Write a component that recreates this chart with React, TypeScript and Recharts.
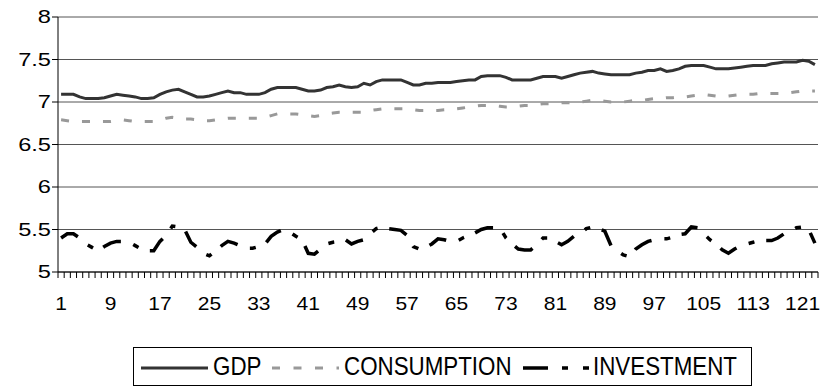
import { LineChart, Line, XAxis, YAxis, CartesianGrid, Legend } from "recharts";

const categories = Array.from({ length: 123 }, (_, i) => String(i + 1));

const gdp = [
  7.09, 7.09, 7.09, 7.06, 7.04, 7.04, 7.04, 7.05, 7.07, 7.09,
  7.08, 7.07, 7.06, 7.04, 7.04, 7.05, 7.09, 7.12, 7.14, 7.15,
  7.12, 7.09, 7.06, 7.06, 7.07, 7.09, 7.11, 7.13, 7.11, 7.11,
  7.09, 7.09, 7.09, 7.11, 7.15, 7.17, 7.17, 7.17, 7.17, 7.15,
  7.13, 7.13, 7.14, 7.17, 7.18, 7.2, 7.18, 7.17, 7.18, 7.22,
  7.2, 7.24, 7.26, 7.26, 7.26, 7.26, 7.23, 7.2, 7.2, 7.22,
  7.22, 7.23, 7.23, 7.23, 7.24, 7.25, 7.26, 7.26, 7.3, 7.31,
  7.31, 7.31, 7.29, 7.26, 7.26, 7.26, 7.26, 7.28, 7.3, 7.3,
  7.3, 7.28, 7.3, 7.32, 7.34, 7.35, 7.36, 7.34, 7.33, 7.32,
  7.32, 7.32, 7.32, 7.34, 7.35, 7.37, 7.37, 7.39, 7.36, 7.37,
  7.39, 7.42, 7.43, 7.43, 7.43, 7.41, 7.39, 7.39, 7.39, 7.4,
  7.41, 7.42, 7.43, 7.43, 7.43, 7.45, 7.46, 7.47, 7.47, 7.47,
  7.49, 7.48, 7.44,
];

const consumption = [
  6.79, 6.78, 6.77, 6.77, 6.77, 6.77, 6.77, 6.77, 6.77, 6.78,
  6.79, 6.78, 6.77, 6.77, 6.77, 6.77, 6.79, 6.81, 6.82, 6.81,
  6.8, 6.8, 6.79, 6.78, 6.78, 6.79, 6.8, 6.81, 6.81, 6.81,
  6.81, 6.81, 6.81, 6.82, 6.84, 6.86, 6.86, 6.86, 6.86, 6.85,
  6.84, 6.83, 6.84, 6.86, 6.87, 6.88, 6.88, 6.88, 6.88, 6.88,
  6.9, 6.91, 6.92, 6.92, 6.92, 6.92, 6.92, 6.91, 6.9, 6.9,
  6.9, 6.9, 6.91, 6.91, 6.92, 6.93, 6.94, 6.95, 6.96, 6.96,
  6.96, 6.95, 6.94, 6.94, 6.95, 6.96, 6.96, 6.97, 6.98, 6.98,
  6.98, 6.99, 6.99, 6.99, 7.0, 7.01, 7.02, 7.02, 7.01, 7.0,
  7.0, 7.0, 7.01, 7.02, 7.02, 7.03, 7.04, 7.04, 7.05, 7.05,
  7.06, 7.06, 7.07, 7.08, 7.09, 7.08, 7.07, 7.07, 7.07, 7.08,
  7.09, 7.09, 7.09, 7.1, 7.1, 7.1, 7.1, 7.1, 7.11, 7.12,
  7.13, 7.13, 7.13,
];

const investment = [
  5.4, 5.45, 5.45, 5.4, 5.33, 5.29, 5.25, 5.3, 5.34, 5.36,
  5.36, 5.35, 5.31, 5.27, 5.25, 5.25, 5.36, 5.43, 5.54, 5.53,
  5.5, 5.35, 5.29, 5.22, 5.19, 5.25, 5.31, 5.36, 5.34, 5.31,
  5.28, 5.28, 5.3, 5.33, 5.42, 5.47, 5.5, 5.47, 5.42, 5.38,
  5.22, 5.21, 5.27, 5.33, 5.35, 5.36, 5.38, 5.33, 5.36, 5.38,
  5.45, 5.51, 5.53, 5.51, 5.5, 5.49, 5.43, 5.3, 5.27, 5.29,
  5.33, 5.39, 5.38, 5.36, 5.36, 5.4, 5.43, 5.46, 5.5, 5.52,
  5.52, 5.52, 5.4, 5.33, 5.27, 5.26, 5.26, 5.32, 5.4, 5.4,
  5.36, 5.32, 5.36, 5.42, 5.45, 5.51, 5.53, 5.51, 5.48, 5.31,
  5.25, 5.2, 5.18, 5.27, 5.32, 5.36, 5.38, 5.39, 5.39, 5.41,
  5.44, 5.45, 5.53, 5.52, 5.45, 5.38, 5.33, 5.26, 5.22, 5.27,
  5.31, 5.33, 5.35, 5.37, 5.37, 5.37, 5.4, 5.45, 5.48, 5.52,
  5.53, 5.5, 5.34,
];

const yTicks = [5, 5.5, 6, 6.5, 7, 7.5, 8];
const yTickLabels = ["5", "5.5", "6", "6.5", "7", "7.5", "8"];
const seriesNames = ["GDP", "CONSUMPTION", "INVESTMENT"];

const data = categories.map((t, i) => ({
  t,
  gdp: gdp[i],
  consumption: consumption[i],
  investment: investment[i],
}));

const FONT = "'Liberation Sans', Arial, sans-serif";
const W = 821;
const H = 390;
const Y_AXIS_W = 58;
const RIGHT = 3;
const BAND = (W - Y_AXIS_W - RIGHT) / categories.length;

// tick marks sit between categories, labels every 8th category
function XTick(props: any) {
  const { x, y, index } = props;
  const showLabel = index % 8 === 0;
  const last = index === categories.length - 1;
  return (
    <g>
      <line x1={x - BAND / 2} x2={x - BAND / 2} y1={y} y2={y + 6} stroke="#000" />
      {last && <line x1={x + BAND / 2} x2={x + BAND / 2} y1={y} y2={y + 6} stroke="#000" />}
      {showLabel && (
        <g transform={`translate(${x},${y + 38}) scale(1.2,1)`}>
          <text x={0} y={0} textAnchor="middle" fontSize={17.5} fontFamily={FONT} fill="#000">
            {props.payload.value}
          </text>
        </g>
      )}
    </g>
  );
}

function YTick(props: any) {
  const { x, y, payload } = props;
  const idx = yTicks.indexOf(payload.value);
  return (
    <g transform={`translate(${x},${y}) scale(1.35,1)`}>
      <text x={0} y={0} dy="0.36em" textAnchor="end" fontSize={17.5} fontFamily={FONT} fill="#000">
        {yTickLabels[idx]}
      </text>
    </g>
  );
}

function LegendBox() {
  const textProps = { fontSize: 26, fontFamily: FONT, fill: "#000" };
  return (
    <svg width={619} height={39} style={{ display: "block" }}>
      <rect x={0.5} y={0.5} width={618} height={38} fill="#fff" stroke="#000" />
      <line x1={8} x2={75} y1={21} y2={21} stroke="#333" strokeWidth={3} />
      <g transform="translate(80,28) scale(0.86,1)">
        <text {...textProps}>{seriesNames[0]}</text>
      </g>
      <line x1={139} x2={206} y1={21} y2={21} stroke="#999" strokeWidth={3} strokeDasharray="8 13.5" />
      <g transform="translate(211,28) scale(0.86,1)">
        <text {...textProps}>{seriesNames[1]}</text>
      </g>
      <line x1={390} x2={457} y1={21} y2={21} stroke="#000" strokeWidth={3.5} strokeDasharray="25 14 6 15 6 40" />
      <g transform="translate(460,28) scale(0.86,1)">
        <text {...textProps}>{seriesNames[2]}</text>
      </g>
    </svg>
  );
}

export default function App() {
  return (
    <div style={{ position: "absolute", left: 0, top: 0, width: W, height: H, background: "#fff" }}>
      <LineChart width={W} height={H} data={data} margin={{ top: 17, right: RIGHT, bottom: 4, left: 0 }}>
        <CartesianGrid horizontal vertical={false} stroke="#555" />
        <XAxis
          dataKey="t"
          scale="band"
          interval={0}
          tickSize={0}
          tickMargin={0}
          height={75}
          axisLine={{ stroke: "#000" }}
          tickLine={false}
          tick={<XTick />}
        />
        <YAxis
          domain={[5, 8]}
          ticks={yTicks}
          width={Y_AXIS_W}
          tickSize={6}
          tickMargin={1}
          axisLine={{ stroke: "#000" }}
          tickLine={{ stroke: "#000" }}
          tick={<YTick />}
        />
        <Legend
          verticalAlign="bottom"
          content={() => <LegendBox />}
          wrapperStyle={{ left: 133, width: 619, bottom: 4 }}
        />
        <Line
          type="linear"
          dataKey="gdp"
          name={seriesNames[0]}
          stroke="#333"
          strokeWidth={3}
          dot={false}
          isAnimationActive={false}
        />
        <Line
          type="linear"
          dataKey="consumption"
          name={seriesNames[1]}
          stroke="#999"
          strokeWidth={3}
          strokeDasharray="8 13"
          dot={false}
          isAnimationActive={false}
        />
        <Line
          type="linear"
          dataKey="investment"
          name={seriesNames[2]}
          stroke="#000"
          strokeWidth={3.5}
          strokeDasharray="19 13 6 12"
          dot={false}
          isAnimationActive={false}
        />
      </LineChart>
    </div>
  );
}
